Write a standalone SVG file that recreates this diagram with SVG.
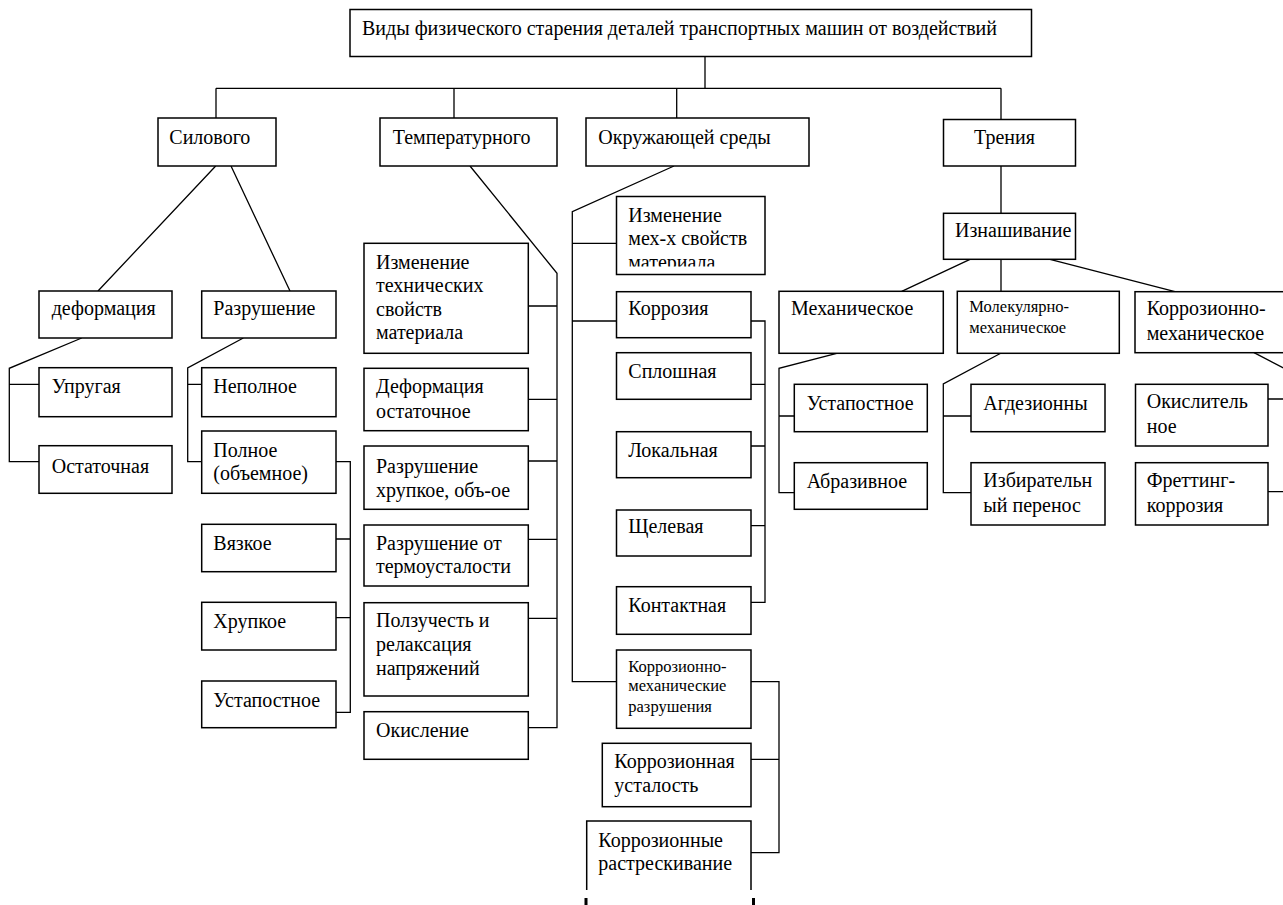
<svg xmlns="http://www.w3.org/2000/svg" width="1283" height="905" viewBox="0 0 1283 905">
<style>
.b{fill:#fff;stroke:#000;stroke-width:1.5}
.t{font-family:"Liberation Serif","Times New Roman",serif;font-size:20px;fill:#000}
.s{font-size:16.5px}
.c{fill:none;stroke:#000;stroke-width:1.3}
</style>
<defs>
<clipPath id="clipMech"><rect x="616" y="196" width="150" height="70.5"/></clipPath>
</defs>
<rect width="1283" height="905" fill="#fff"/>
<g id="connectors" class="c">
<path d="M705 56.7V88.3M216 88.3H1001M216 88.3V118M454 88.3V118M676.7 88.3V118M1001 88.3V119.5M1001 166V213.3"/>
<path d="M215.7 166L98 291M231 166L290 291"/>
<path d="M81.7 338L9.3 368.3V461.7H39M9.3 384.3H39"/>
<path d="M243.3 338L187.7 368V461.7H201.7M187.7 384.3H201.7"/>
<path d="M336 461.7H350.3V712.3H336M336 539H350.3M336 617.7H350.3"/>
<path d="M470 166L557 273.3V727.7H528.3M528.3 306H557M528.3 399.3H557M528.3 461H557M528.3 539.3H557M528.3 618.3H557"/>
<path d="M674 166L572.3 211.7V681.7H616.5M572.3 243.3H616.5M572.3 321H616.5"/>
<path d="M751 321H765V602.3H751M751 384.3H765M751 446H765M751 525.7H765"/>
<path d="M751 681.7H779V852.7H751M751 759.3H779"/>
<path d="M970 259.3L901.7 291.3M1001 259.3V291.3M1050 259.3L1175 291.7"/>
<path d="M836.7 353.3L779 368.3V492.7H794.3M779 416H794.3"/>
<path d="M1000.7 353.3L943.3 384V492.7H971M943.3 416H971"/>
<path d="M1254 352.7L1284 368.3V492M1268 399H1290M1268 491.7H1290"/>
<path d="M586 898V905M753.5 898V905" stroke-width="3"/>
</g>
<g id="root"><rect class="b" x="350" y="9.5" width="681.5" height="47"/><text class="t" x="362" y="35">Виды физического старения деталей транспортных машин от воздействий</text></g>
<g id="silovogo"><rect class="b" x="158" y="118" width="118" height="48"/><text class="t" x="169.3" y="144">Силового</text></g>
<g id="temperaturnogo"><rect class="b" x="380" y="118" width="177" height="48"/><text class="t" x="392.7" y="144">Температурного</text></g>
<g id="okruzh"><rect class="b" x="586" y="118" width="223" height="48"/><text class="t" x="598.3" y="144">Окружающей среды</text></g>
<g id="trenia"><rect class="b" x="943.5" y="119.5" width="132" height="46.5"/><text class="t" x="974" y="144">Трения</text></g>
<g id="iznash"><rect class="b" x="943.5" y="213.3" width="132" height="46"/><text class="t" x="955" y="236.7">Изнашивание</text></g>

<g id="deform"><rect class="b" x="39" y="291" width="133" height="47"/><text class="t" x="51.7" y="315">деформация</text></g>
<g id="razrush"><rect class="b" x="201.7" y="291" width="134.3" height="47"/><text class="t" x="213.3" y="315">Разрушение</text></g>
<g id="uprugaya"><rect class="b" x="39" y="367.7" width="133" height="49"/><text class="t" x="51.7" y="393.3">Упругая</text></g>
<g id="ostatochnaya"><rect class="b" x="39" y="445.7" width="133" height="47.6"/><text class="t" x="51.7" y="472.7">Остаточная</text></g>
<g id="nepolnoe"><rect class="b" x="201.7" y="367.7" width="134.3" height="49"/><text class="t" x="213.3" y="393.3">Неполное</text></g>
<g id="polnoe"><rect class="b" x="201.7" y="431" width="134.3" height="62.3"/><text class="t" x="213.3" y="456.7">Полное</text><text class="t" x="213.3" y="480">(объемное)</text></g>
<g id="vyazkoe"><rect class="b" x="201.7" y="524.3" width="134.3" height="47.4"/><text class="t" x="213.3" y="550">Вязкое</text></g>
<g id="hrupkoe"><rect class="b" x="201.7" y="602.3" width="134.3" height="47.7"/><text class="t" x="213.3" y="628.3">Хрупкое</text></g>
<g id="ustalostnoe1"><rect class="b" x="201.7" y="681" width="134.3" height="46.7"/><text class="t" x="213.3" y="706.7">Устапостное</text></g>

<g id="izm-teh"><rect class="b" x="364" y="243.3" width="164.3" height="110"/><text class="t" x="376" y="268.5">Изменение</text><text class="t" x="376" y="292">технических</text><text class="t" x="376" y="315.5">свойств</text><text class="t" x="376" y="339">материала</text></g>
<g id="def-ost"><rect class="b" x="364" y="368.3" width="164.3" height="62.4"/><text class="t" x="376" y="393.3">Деформация</text><text class="t" x="376" y="417.7">остаточное</text></g>
<g id="razr-hrup"><rect class="b" x="364" y="446" width="164.3" height="63.3"/><text class="t" x="376" y="473">Разрушение</text><text class="t" x="376" y="497">хрупкое, объ-ое</text></g>
<g id="razr-termo"><rect class="b" x="364" y="525" width="164.3" height="61"/><text class="t" x="376" y="550">Разрушение от</text><text class="t" x="376" y="573.3">термоусталости</text></g>
<g id="polzuchest"><rect class="b" x="364" y="602.7" width="164.3" height="93.3"/><text class="t" x="376" y="627">Ползучесть и</text><text class="t" x="376" y="651">релаксация</text><text class="t" x="376" y="675">напряжений</text></g>
<g id="okislenie"><rect class="b" x="364" y="711.7" width="164.3" height="47.6"/><text class="t" x="376" y="736.7">Окисление</text></g>

<g id="izm-meh"><rect class="b" x="616.5" y="196.5" width="148.5" height="78"/><text class="t" x="628.3" y="221.7">Изменение</text><text class="t" x="628.3" y="245">мех-х свойств</text><text class="t" x="628.3" y="268.5" clip-path="url(#clipMech)">материала</text></g>
<g id="korroziya"><rect class="b" x="616.5" y="291.7" width="134.5" height="46"/><text class="t" x="628.3" y="315">Коррозия</text></g>
<g id="sploshnaya"><rect class="b" x="616.5" y="352.7" width="134.5" height="46.6"/><text class="t" x="628.3" y="378.3">Сплошная</text></g>
<g id="lokalnaya"><rect class="b" x="616.5" y="431.7" width="134.5" height="46"/><text class="t" x="628.3" y="456.7">Локальная</text></g>
<g id="shelevaya"><rect class="b" x="616.5" y="510" width="134.5" height="46"/><text class="t" x="628.3" y="533.3">Щелевая</text></g>
<g id="kontaktnaya"><rect class="b" x="616.5" y="586.7" width="134.5" height="47.6"/><text class="t" x="628.3" y="611.7">Контактная</text></g>
<g id="korr-meh-razr"><rect class="b" x="616.5" y="650" width="134.5" height="78.3"/><text class="t s" x="628.3" y="671.7">Коррозионно-</text><text class="t s" x="628.3" y="690.5">механические</text><text class="t s" x="628.3" y="711.7">разрушения</text></g>
<g id="korr-ustalost"><rect class="b" x="602.3" y="743.3" width="148.7" height="63.4"/><text class="t" x="614.3" y="768.3">Коррозионная</text><text class="t" x="614.3" y="791.7">усталость</text></g>
<g id="korr-rastresk"><path class="b" d="M586.7 890V821H751V890" fill="#fff"/><text class="t" x="598.3" y="846.7">Коррозионные</text><text class="t" x="598.3" y="870">растрескивание</text></g>

<g id="mehanicheskoe"><rect class="b" x="779" y="291.3" width="164.3" height="62"/><text class="t" x="791" y="315">Механическое</text></g>
<g id="molek"><rect class="b" x="957.3" y="291.3" width="162" height="62"/><text class="t s" x="969.3" y="312.3">Молекулярно-</text><text class="t s" x="969.3" y="333.3">механическое</text></g>
<g id="korr-meh"><rect class="b" x="1135" y="291.7" width="160" height="61"/><text class="t" x="1146.7" y="315">Коррозионно-</text><text class="t" x="1146.7" y="340">механическое</text></g>
<g id="ustalostnoe2"><rect class="b" x="794.3" y="384.3" width="133" height="47.4"/><text class="t" x="806.7" y="410">Устапостное</text></g>
<g id="abrazivnoe"><rect class="b" x="794.3" y="462.7" width="133" height="46.6"/><text class="t" x="806.7" y="488.3">Абразивное</text></g>
<g id="adgez"><rect class="b" x="971" y="384.3" width="134" height="47.4"/><text class="t" x="983.3" y="410">Агдезионны</text></g>
<g id="izbir"><rect class="b" x="971" y="462.7" width="134" height="62.3"/><text class="t" x="983.3" y="487.3">Избирательн</text><text class="t" x="983.3" y="511.7">ый перенос</text></g>
<g id="okisl"><rect class="b" x="1135.5" y="384.3" width="132.5" height="61.7"/><text class="t" x="1146.7" y="408.3">Окислитель</text><text class="t" x="1146.7" y="433.3">ное</text></g>
<g id="fretting"><rect class="b" x="1135.5" y="462.7" width="132.5" height="62.3"/><text class="t" x="1146.7" y="487.3">Фреттинг-</text><text class="t" x="1146.7" y="511.7">коррозия</text></g>
</svg>
